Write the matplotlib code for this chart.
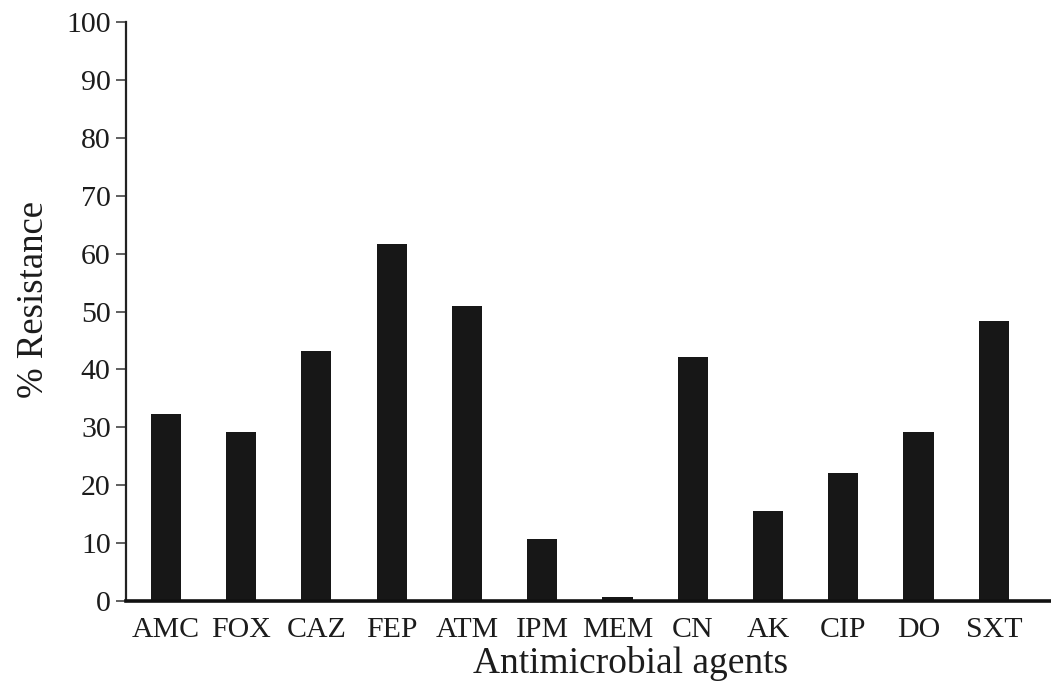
import numpy as np
import matplotlib.pyplot as plt

agents = ["AMC", "FOX", "CAZ", "FEP", "ATM", "IPM", "MEM", "CN", "AK", "CIP", "DO", "SXT"]
resistance = [32.3, 29.2, 43.2, 61.6, 50.9, 10.6, 0.7, 42.1, 15.5, 22.0, 29.2, 48.4]

plt.rcParams['font.family'] = ['Liberation Serif', 'DejaVu Serif']
txt = '#1c1c1c'

fig = plt.figure(figsize=(10.51, 6.87), dpi=100)
ax = fig.add_axes([126 / 1051, (687 - 600.7) / 687, 1 - 126 / 1051, (600.7 - 22.3) / 687])

x = np.arange(len(agents))
ax.bar(x, resistance, width=0.4, color='#171717', edgecolor='none')

ax.set_xlim(-0.53, 11.76)
ax.set_ylim(0, 100)
ax.set_yticks(np.arange(0, 101, 10))
ax.set_xticks(x)
ax.set_xticklabels(agents)

for s in ['top', 'right']:
    ax.spines[s].set_visible(False)
ax.spines['left'].set_linewidth(1.6)
ax.spines['bottom'].set_linewidth(2.6)
ax.spines['left'].set_color('#222222')
ax.spines['bottom'].set_color('#111111')

ax.tick_params(axis='y', direction='out', length=7, width=1.2, pad=4,
               labelsize=21.5, colors='#444444', labelcolor=txt)
ax.tick_params(axis='x', length=0, pad=11.5, labelsize=21.5, labelcolor=txt)

ax.set_ylabel("% Resistance", fontsize=26.5, color=txt)
ax.yaxis.set_label_coords(-0.081, 0.52)
ax.set_xlabel("Antimicrobial agents", fontsize=27, color=txt)
ax.xaxis.set_label_coords(0.546, -0.079)

fig.savefig("out.png", dpi=100)
